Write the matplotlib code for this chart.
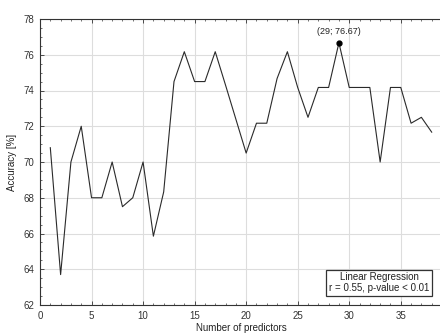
import matplotlib
matplotlib.use("Agg")
import matplotlib.pyplot as plt
from matplotlib.ticker import MultipleLocator

plt.rcParams['font.family'] = ['Liberation Sans', 'DejaVu Sans']

n_predictors = list(range(1, 39))
accuracy = [70.8, 63.7, 70.0, 72.0, 68.0, 68.0, 70.0, 67.5, 68.0, 70.0,
            65.85, 68.33, 74.5, 76.17, 74.5, 74.5, 76.17, 74.3, 72.4, 70.5,
            72.17, 72.17, 74.67, 76.17, 74.17, 72.5, 74.17, 74.17, 76.67, 74.17,
            74.17, 74.17, 70.0, 74.17, 74.17, 72.17, 72.5, 71.67]
best_x, best_y = 29, 76.67
x_ticks = [0, 5, 10, 15, 20, 25, 30, 35]
y_ticks = [62, 64, 66, 68, 70, 72, 74, 76, 78]
stats_text = "Linear Regression\nr = 0.55, p-value < 0.01"

fig = plt.figure(figsize=(4.4, 3.34), dpi=100)
ax = fig.add_axes([40 / 440, 29 / 334, 402 / 440, 286 / 334])

ax.plot(n_predictors, accuracy, color='#2a2a2a', lw=0.8)
ax.plot([best_x], [best_y], 'o', color='black', ms=3.5)
ax.annotate(f"({best_x}; {best_y:.2f})", (best_x, best_y), xytext=(0, 5),
            textcoords='offset points', ha='center', va='bottom', fontsize=6.5,
            color='#222222')

ax.set_xlim(0, 39)
ax.set_ylim(62, 78)
ax.set_xticks(x_ticks)
ax.set_yticks(y_ticks)
ax.xaxis.set_minor_locator(MultipleLocator(1))
ax.yaxis.set_minor_locator(MultipleLocator(0.5))
ax.tick_params(which='both', direction='in', top=True, right=False,
               labelsize=7, colors='#333333', pad=4)
ax.tick_params(which='major', length=3, width=0.6)
ax.tick_params(which='minor', length=1.5, width=0.5)
ax.grid(True, which='major', color='#dddddd', lw=0.8)
ax.set_axisbelow(True)
for side in ['left', 'bottom', 'top', 'right']:
    ax.spines[side].set_linewidth(0.8)
    ax.spines[side].set_color('#333333')

ax.set_xlabel("Number of predictors", fontsize=7, color='#222222', labelpad=2)
ax.set_ylabel("Accuracy [%]", fontsize=7, color='#222222', labelpad=5)

ax.text(32.9, 63.25, stats_text, ha='center', va='center', fontsize=7,
        color='#222222', linespacing=1.05,
        bbox=dict(boxstyle='square,pad=0.3', fc='white', ec='#333333', lw=0.9))

fig.savefig("out.png", dpi=100)
